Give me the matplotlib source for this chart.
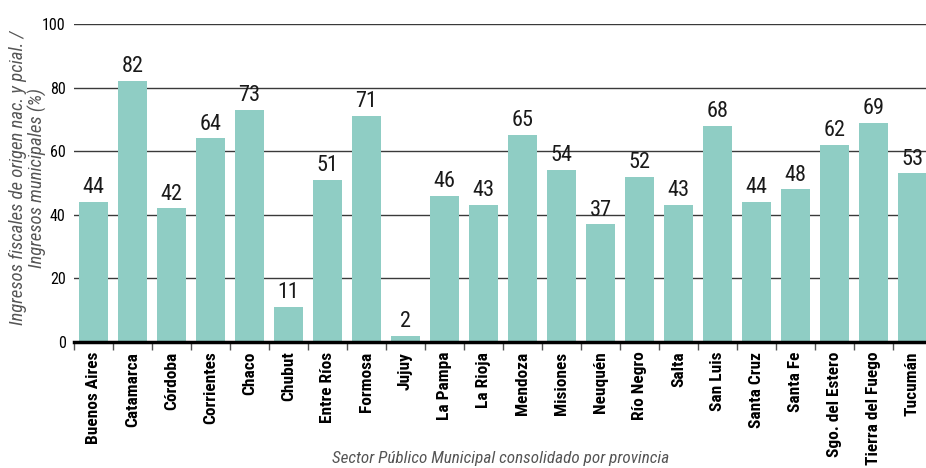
import matplotlib
matplotlib.use("Agg")
import matplotlib.pyplot as plt
from matplotlib.ticker import MultipleLocator

provincias = ["Buenos Aires", "Catamarca", "Córdoba", "Corrientes", "Chaco",
              "Chubut", "Entre Ríos", "Formosa", "Jujuy", "La Pampa", "La Rioja",
              "Mendoza", "Misiones", "Neuquén", "Río Negro", "Salta", "San Luis",
              "Santa Cruz", "Santa Fe", "Sgo. del Estero", "Tierra del Fuego",
              "Tucumán"]
ratio = [44, 82, 42, 64, 73, 11, 51, 71, 2, 46, 43, 65, 54, 37, 52, 43, 68,
         44, 48, 62, 69, 53]

plt.rcParams["font.family"] = ["Roboto Condensed", "DejaVu Sans"]

fig = plt.figure(figsize=(9.26, 4.68), dpi=100)
ax = fig.add_axes([74 / 926, 126 / 468, 858 / 926, 318 / 468])

x = range(len(provincias))
bars = ax.bar(x, ratio, width=0.75, color="#8fcdc4", zorder=3)
for b, v in zip(bars, ratio):
	ax.text(b.get_x() + b.get_width() / 2, v + 1.2, str(v),
			ha="center", va="bottom", fontsize=16, color="#1a1a1a")

ax.set_xlim(-0.5, len(provincias) - 0.5)
ax.set_ylim(0, 100)
ax.yaxis.set_major_locator(MultipleLocator(20))
ax.grid(axis="y", color="#3a3a3a", linewidth=1, zorder=0)

ax.set_xticks(list(x))
ax.set_xticklabels(provincias, rotation=90, fontsize=12.5, fontweight="bold")
ax.set_xticks([i - 0.5 for i in range(len(provincias) + 1)], minor=True)
ax.tick_params(axis="x", which="major", length=0, pad=7)
ax.tick_params(axis="x", which="minor", length=6, color="#555555", width=1)
ax.tick_params(axis="y", length=0, labelsize=11.5, pad=6)

for side in ["top", "right", "left"]:
	ax.spines[side].set_visible(False)
ax.spines["bottom"].set_linewidth(2.5)
ax.spines["bottom"].set_zorder(4)

fig.text(28 / 926, 1 - 178 / 468,
		 "Ingresos fiscales de origen nac. y pcial. /\nIngresos municipales (%)",
		 rotation=90, ha="center", va="center", fontsize=13.5, style="italic",
		 color="#555555", linespacing=1.1)
fig.text(501 / 926, 1 - 458 / 468,
		 "Sector Público Municipal consolidado por provincia",
		 ha="center", va="center", fontsize=12.3, style="italic", color="#555555")

fig.savefig("out.png", dpi=100)
